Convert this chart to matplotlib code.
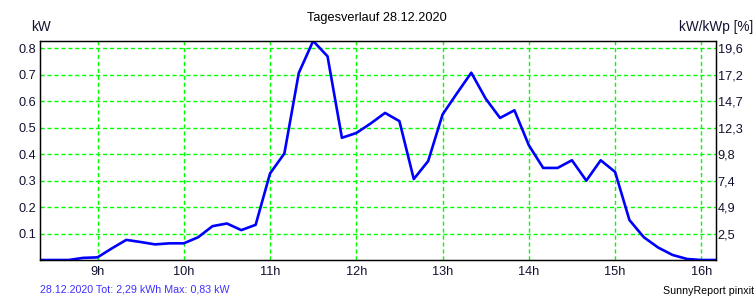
import matplotlib.pyplot as plt

plt.rcParams['font.family'] = ['Liberation Sans', 'DejaVu Sans']

# 10-minute readings, 08:20 .. 16:10
start_hour = 8 + 20 / 60
power_kw = [0.0, 0.0, 0.0, 0.008, 0.01, 0.044, 0.076, 0.068, 0.059, 0.063, 0.063,
            0.086, 0.128, 0.138, 0.113, 0.133, 0.327, 0.403, 0.707, 0.828, 0.77,
            0.462, 0.48, 0.516, 0.556, 0.525, 0.306, 0.374, 0.55, 0.63, 0.708,
            0.61, 0.537, 0.566, 0.434, 0.348, 0.348, 0.377, 0.30, 0.377, 0.333,
            0.151, 0.086, 0.047, 0.019, 0.004, 0.0, 0.0]
kwp = 4.08
hour_ticks = [9, 10, 11, 12, 13, 14, 15, 16]
kw_ticks = [0.1, 0.2, 0.3, 0.4, 0.5, 0.6, 0.7, 0.8]
pct_labels = ['2,5', '4,9', '7,4', '9,8', '12,3', '14,7', '17,2', '19,6']

times = [start_hour + i / 6 for i in range(len(power_kw))]

fig = plt.figure(figsize=(7.56, 3.0), dpi=100)
ax = fig.add_axes([40 / 756, 40 / 300, 675.7 / 756, 219.3 / 300])

ax.plot(times, power_kw, color='#0000FF', lw=1.9, zorder=3)
ax.set_xlim(start_hour, 16 + 10 / 60)
ax.set_ylim(0, 0.829)

ax.set_xticks(hour_ticks)
ax.set_xticklabels([f'{h}h' for h in hour_ticks])
ax.set_yticks(kw_ticks)
ax.set_yticklabels([f'{v:.1f}' for v in kw_ticks])
ax.tick_params(axis='y', length=0, labelsize=9.2, colors='#101030', pad=3)
ax.tick_params(axis='x', length=0, labelsize=9.2, colors='#101030', pad=4)
ax.grid(True, color='#00FF00', lw=1, linestyle=(0, (3, 2)))
for s in ax.spines.values():
    s.set_linewidth(0.9)
    s.set_color('black')

ax2 = ax.twinx()
ax2.set_ylim(ax.get_ylim())
ax2.set_yticks(kw_ticks)
ax2.set_yticklabels(pct_labels)
ax2.tick_params(length=0, labelsize=9.2, colors='#101030', pad=1.5)
for s in ax2.spines.values():
    s.set_linewidth(0.9)

fig.text(377 / 756, 1 - 18 / 300, 'Tagesverlauf 28.12.2020', ha='center', va='center',
         fontsize=9.2, color='black')
fig.text(31 / 756, 1 - 27 / 300, 'kW', ha='left', va='center', fontsize=9.8, color='#101030')
fig.text(753 / 756, 1 - 27 / 300, 'kW/kWp [%]', ha='right', va='center', fontsize=9.8,
         color='#101030')
fig.text(40 / 756, 1 - 289 / 300, '28.12.2020 Tot: 2,29 kWh Max: 0,83 kW', ha='left',
         va='center', fontsize=7.7, color='#4030FF')
fig.text(754 / 756, 1 - 291 / 300, 'SunnyReport pinxit', ha='right', va='center',
         fontsize=7.7, color='black')

fig.savefig('out.png', dpi=100)
